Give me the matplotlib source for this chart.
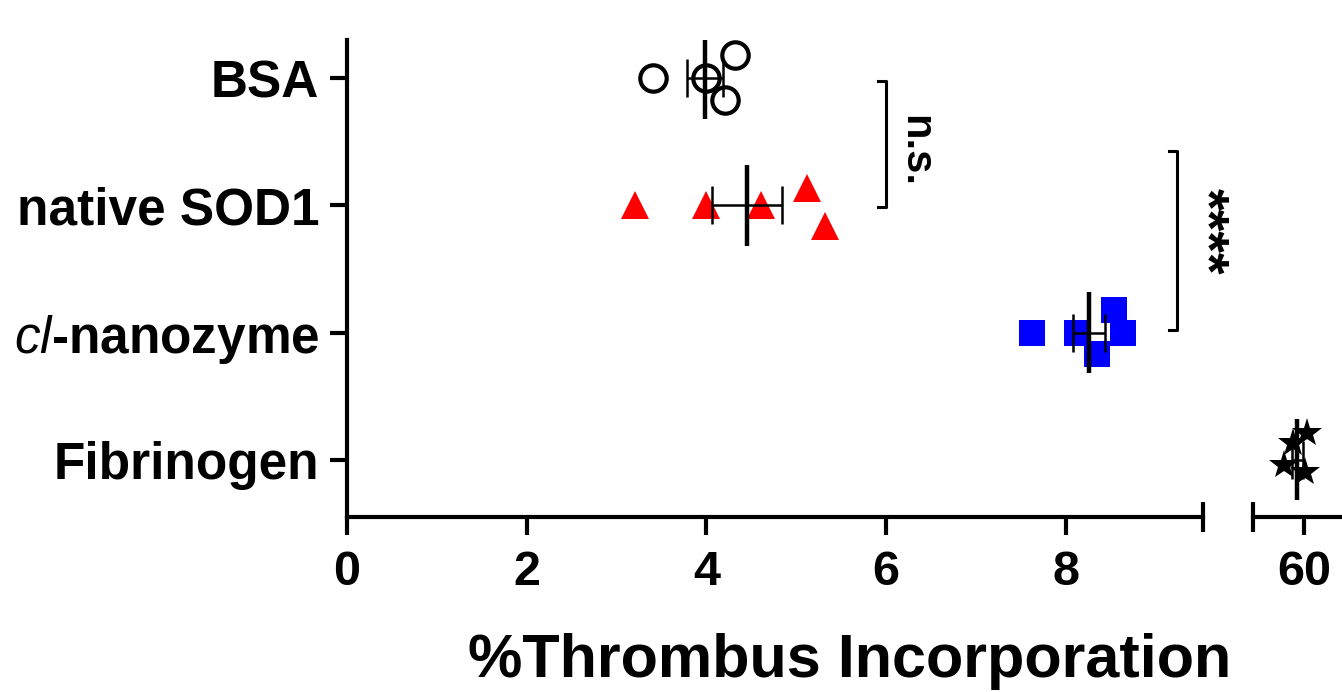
import matplotlib
matplotlib.use('Agg')
import matplotlib.pyplot as plt
import numpy as np

plt.rcParams['font.family'] = ['Liberation Sans', 'DejaVu Sans']
plt.rcParams['font.weight'] = 'bold'
plt.rcParams['mathtext.fontset'] = 'custom'
plt.rcParams['mathtext.it'] = 'Liberation Sans:style=italic:weight=normal'
plt.rcParams['mathtext.rm'] = 'Liberation Sans'

# Data
groups = ['BSA', 'native SOD1', r'$\mathit{cl}$-nanozyme', 'Fibrinogen']
bsa = [3.41, 4.00, 4.32, 4.21]
sod1 = [3.21, 4.00, 4.61, 5.12, 5.32]
nano = [7.63, 8.13, 8.54, 8.64, 8.35]
fib = [60.03, 59.88, 59.77, 60.01]
# vertical scatter of points (category units)
bsa_jit = [0, 0, 0.18, -0.17]
sod1_jit = [0, 0, 0, 0.14, -0.16]
nano_jit = [0, 0, 0.18, 0, -0.17]
fib_jit = [0.21, 0.13, -0.04, -0.10]

series = [
    (bsa, bsa_jit, 3, dict(marker='o', mfc='none', mec='black', mew=3.0, ms=19)),
    (sod1, sod1_jit, 2, dict(marker='^', mfc='#ff0000', mec='#ff0000', mew=0, ms=20)),
    (nano, nano_jit, 1, dict(marker='s', mfc='#0000ff', mec='#0000ff', mew=0, ms=18.5)),
    (fib, fib_jit, 0, dict(marker='*', mfc='black', mec='black', mew=0, ms=22)),
]

fig = plt.figure(figsize=(13.42, 6.92), dpi=100)
ax1 = fig.add_axes([347 / 1342, 1 - 517 / 692, 856 / 1342, 477 / 692])
ax2 = fig.add_axes([1253 / 1342, 1 - 517 / 692, 89 / 1342, 477 / 692], sharey=ax1)

for vals, jit, ypos, style in series:
    ax = ax2 if ypos == 0 else ax1
    vals = np.array(vals)
    m = vals.mean()
    sem = vals.std(ddof=1) / np.sqrt(len(vals))
    ax.plot(vals, ypos + np.array(jit), ls='none', zorder=2, clip_on=False, **style)
    ax.plot([m, m], [ypos - 0.32, ypos + 0.32], color='black', lw=3.2, zorder=3,
            solid_capstyle='butt')
    ax.errorbar([m], [ypos], xerr=[sem], fmt='none', ecolor='black', elinewidth=1.8,
                capsize=14, capthick=1.8, zorder=3)

ax1.set_xlim(0, 9.53)
ax1.set_ylim(-0.45, 3.30)
ax2.set_xlim(59.43, 60.42)

ax1.set_xticks([0, 2, 4, 6, 8])
ax2.set_xticks([60])
ax1.set_yticks([3, 2, 1, 0])
ax1.set_yticklabels(groups)

for ax in (ax1, ax2):
    ax.spines['top'].set_visible(False)
    ax.spines['right'].set_visible(False)
    for s in ax.spines.values():
        s.set_linewidth(3)
    ax.tick_params(axis='x', length=13, width=3, pad=11, labelsize=35)
    ax.tick_params(axis='y', length=12, width=3, pad=8, labelsize=37)
ax2.spines['left'].set_visible(False)
ax2.tick_params(axis='y', left=False, labelleft=False)

# axis break caps
ax1.plot([1, 1], [-0.032, 0.032], transform=ax1.transAxes, color='black', lw=3,
         clip_on=False, solid_capstyle='butt')
ax2.plot([0, 0], [-0.032, 0.032], transform=ax2.transAxes, color='black', lw=3,
         clip_on=False, solid_capstyle='butt')

# significance brackets
def bracket(ax, x, y0, y1, arm=0.09):
    ax.plot([x - arm, x, x, x - arm], [y0, y0, y1, y1], color='black', lw=2.2,
            clip_on=False)

bracket(ax1, 6.0, 2.98, 1.99)
ax1.text(6.33, 2.43, 'n.s.', rotation=-90, ha='center', va='center', fontsize=30)
bracket(ax1, 9.24, 2.43, 1.02)
ax1.text(9.55, 1.80, '****', rotation=-90, ha='center', va='center', fontsize=40,
         clip_on=False)

fig.text((465 + 1235) / 2 / 1342, 1 - 662 / 692, '%Thrombus Incorporation',
         ha='center', va='center', fontsize=44)

fig.savefig('out.png', dpi=100)
